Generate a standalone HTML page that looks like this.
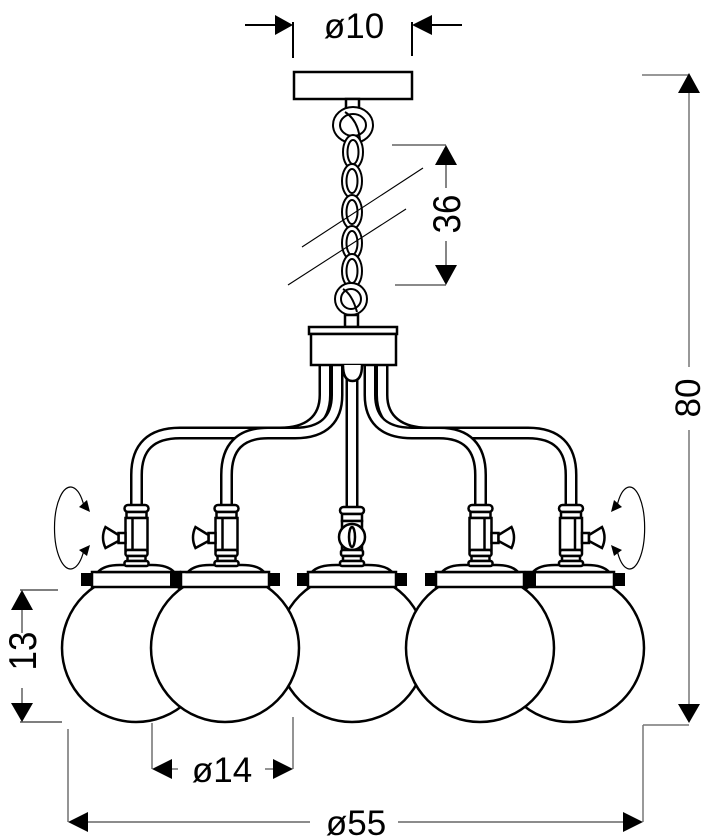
<!DOCTYPE html>
<html><head><meta charset="utf-8">
<style>
html,body{margin:0;padding:0;background:#fff;}
svg{display:block;}
text{font-family:"Liberation Sans",Arial,sans-serif;font-size:35px;fill:#000;}
</style></head><body>
<svg width="710" height="840" viewBox="0 0 710 840" xmlns="http://www.w3.org/2000/svg">
<rect width="710" height="840" fill="#fff"/>

<!-- ø10 dimension -->
<g stroke="#000" stroke-width="2" fill="none">
<line x1="245" y1="25" x2="278" y2="25"/>
<line x1="293" y1="22" x2="293" y2="58"/>
<line x1="430" y1="25" x2="462" y2="25"/>
<line x1="412" y1="22" x2="412" y2="56"/>
</g>
<polygon points="293,25 275,15 275,35" fill="#000"/>
<polygon points="412,25 432,15 432,35" fill="#000"/>
<text x="354" y="38" text-anchor="middle">ø10</text>

<!-- ceiling plate -->
<rect x="294" y="72" width="118" height="27" fill="#fff" stroke="#000" stroke-width="2.5"/>
<rect x="346" y="99" width="13" height="10" fill="#fff" stroke="#000" stroke-width="2.5"/>

<!-- chain -->
<g stroke="#000" stroke-width="2" fill="#fff">
<ellipse cx="353" cy="125" rx="20" ry="18"/>
<ellipse cx="353" cy="125" rx="13" ry="11"/>
<path d="M345,112 Q358,120 360,140" fill="none"/>
<ellipse cx="353" cy="152" rx="10" ry="17"/>
<ellipse cx="353" cy="152" rx="5.5" ry="12"/>
<ellipse cx="352" cy="181" rx="10" ry="17"/>
<ellipse cx="352" cy="181" rx="5.5" ry="12"/>
<ellipse cx="352" cy="212" rx="10" ry="17"/>
<ellipse cx="352" cy="212" rx="5.5" ry="12"/>
<ellipse cx="352" cy="243" rx="10" ry="17"/>
<ellipse cx="352" cy="243" rx="5.5" ry="12"/>
<ellipse cx="352" cy="271" rx="10" ry="17"/>
<ellipse cx="352" cy="271" rx="5.5" ry="12"/>
<ellipse cx="351" cy="299" rx="16" ry="16"/>
<ellipse cx="351" cy="299" rx="10" ry="10"/>
<path d="M343,289 Q352,294 357,312" fill="none"/>
<rect x="345" y="315" width="13" height="12" stroke-width="2.5"/>
</g>

<!-- break lines -->
<g stroke="#000" stroke-width="1.1">
<line x1="302" y1="247" x2="423" y2="168"/>
<line x1="288" y1="285" x2="406" y2="209"/>
</g>

<!-- 36 dimension -->
<g stroke="#444" stroke-width="1.3">
<line x1="392" y1="145" x2="446" y2="145"/>
<line x1="395" y1="285" x2="446" y2="285"/>
<line x1="446" y1="162" x2="446" y2="188"/>
<line x1="446" y1="241" x2="446" y2="268"/>
</g>
<polygon points="446,145 435,165 457,165" fill="#000"/>
<polygon points="446,285 435,265 457,265" fill="#000"/>
<text transform="translate(460,214) rotate(-90) scale(1,1.12)" text-anchor="middle">36</text>

<!-- arms -->
<g fill="none" stroke-linecap="butt">
<path d="M136.5,508 L136.5,475 Q136.5,433 180,433 L280,433 C308,433 325,420 325,395 L325,364" stroke="#000" stroke-width="13"/>
<path d="M136.5,510 L136.5,475 Q136.5,433 180,433 L280,433 C308,433 325,420 325,395 L325,362" stroke="#fff" stroke-width="8"/>
<path d="M226.5,508 L226.5,475 Q226.5,433 268,433 L295,433 C325,433 337,418 337,395 L337,364" stroke="#000" stroke-width="13"/>
<path d="M226.5,510 L226.5,475 Q226.5,433 268,433 L295,433 C325,433 337,418 337,395 L337,362" stroke="#fff" stroke-width="8"/>
<path d="M571,508 L571,475 Q571,433 528,433 L428,433 C400,433 382,420 382,395 L382,364" stroke="#000" stroke-width="13"/>
<path d="M571,510 L571,475 Q571,433 528,433 L428,433 C400,433 382,420 382,395 L382,362" stroke="#fff" stroke-width="8"/>
<path d="M480.5,508 L480.5,475 Q480.5,433 439,433 L412,433 C382,433 370,418 370,395 L370,364" stroke="#000" stroke-width="13"/>
<path d="M480.5,510 L480.5,475 Q480.5,433 439,433 L412,433 C382,433 370,418 370,395 L370,362" stroke="#fff" stroke-width="8"/>
<path d="M352,364 L352,510" stroke="#000" stroke-width="13"/>
<path d="M352,362 L352,512" stroke="#fff" stroke-width="8"/>
</g>

<!-- hub -->
<g stroke="#000" stroke-width="2.5" fill="#fff">
<rect x="309" y="327" width="88" height="7"/>
<rect x="311" y="334" width="85" height="31"/>
<path d="M343,365 Q343,381 352.5,381 Q362,381 362,365"/>
</g>

<!-- globes -->
<g stroke="#000" stroke-width="2.5" fill="#fff">
<circle cx="136" cy="648" r="74"/>
<circle cx="352" cy="648" r="74"/>
<circle cx="570" cy="648" r="74"/>
<circle cx="225" cy="648" r="74"/>
<circle cx="480" cy="648" r="74"/>
</g>

<!-- plates -->
<g stroke="#000" stroke-width="2.5" fill="#fff">
<rect x="92" y="572" width="88" height="15"/>
<rect x="308" y="572" width="88" height="15"/>
<rect x="526" y="572" width="88" height="15"/>
<rect x="181" y="572" width="88" height="15"/>
<rect x="436" y="572" width="88" height="15"/>
</g>
<g fill="#000">
<rect x="81" y="573" width="11" height="13"/>
<rect x="170" y="573" width="12" height="13"/>
<rect x="269" y="573" width="11" height="13"/>
<rect x="297" y="573" width="11" height="13"/>
<rect x="396" y="573" width="11" height="13"/>
<rect x="425" y="573" width="11" height="13"/>
<rect x="524" y="573" width="12" height="13"/>
<rect x="614" y="573" width="11" height="13"/>
</g>

<!-- domes -->
<g stroke="#000" stroke-width="2.5" fill="#fff">
<path d="M98,572 Q104,565 120,565 L152,565 Q168,565 174,572 Z"/>
<path d="M188,572 Q194,565 210,565 L242,565 Q258,565 264,572 Z"/>
<path d="M312,572 Q318,565 336,565 L368,565 Q386,565 392,572 Z"/>
<path d="M442,572 Q448,565 464,565 L496,565 Q512,565 518,572 Z"/>
<path d="M533,572 Q539,565 555,565 L587,565 Q603,565 609,572 Z"/>
</g>

<!-- side valves -->
<g transform="translate(136.5,0)" stroke="#000" stroke-width="2.5" fill="#fff">
 <rect x="-12" y="505" width="24" height="7" rx="3.5"/>
 <rect x="-10" y="512" width="20" height="6"/>
 <rect x="-11" y="518" width="22" height="32"/>
 <line x1="-4" y1="518" x2="-4" y2="550"/>
 <rect x="-11" y="550" width="22" height="6" rx="2"/>
 <rect x="-9" y="556" width="18" height="5"/>
 <rect x="-12" y="561" width="24" height="5" rx="2"/>
 <rect x="-18" y="533" width="7" height="10"/>
 <path d="M-18,535 L-31,527 Q-36,537.5 -31,548 L-18,541 Z"/>
</g>
<g transform="translate(226.5,0)" stroke="#000" stroke-width="2.5" fill="#fff">
 <rect x="-12" y="505" width="24" height="7" rx="3.5"/>
 <rect x="-10" y="512" width="20" height="6"/>
 <rect x="-11" y="518" width="22" height="32"/>
 <line x1="-4" y1="518" x2="-4" y2="550"/>
 <rect x="-11" y="550" width="22" height="6" rx="2"/>
 <rect x="-9" y="556" width="18" height="5"/>
 <rect x="-12" y="561" width="24" height="5" rx="2"/>
 <rect x="-18" y="533" width="7" height="10"/>
 <path d="M-18,535 L-31,527 Q-36,537.5 -31,548 L-18,541 Z"/>
</g>
<g transform="translate(480.5,0) scale(-1,1)" stroke="#000" stroke-width="2.5" fill="#fff">
 <rect x="-12" y="505" width="24" height="7" rx="3.5"/>
 <rect x="-10" y="512" width="20" height="6"/>
 <rect x="-11" y="518" width="22" height="32"/>
 <line x1="-4" y1="518" x2="-4" y2="550"/>
 <rect x="-11" y="550" width="22" height="6" rx="2"/>
 <rect x="-9" y="556" width="18" height="5"/>
 <rect x="-12" y="561" width="24" height="5" rx="2"/>
 <rect x="-18" y="533" width="7" height="10"/>
 <path d="M-18,535 L-31,527 Q-36,537.5 -31,548 L-18,541 Z"/>
</g>
<g transform="translate(571,0) scale(-1,1)" stroke="#000" stroke-width="2.5" fill="#fff">
 <rect x="-12" y="505" width="24" height="7" rx="3.5"/>
 <rect x="-10" y="512" width="20" height="6"/>
 <rect x="-11" y="518" width="22" height="32"/>
 <line x1="-4" y1="518" x2="-4" y2="550"/>
 <rect x="-11" y="550" width="22" height="6" rx="2"/>
 <rect x="-9" y="556" width="18" height="5"/>
 <rect x="-12" y="561" width="24" height="5" rx="2"/>
 <rect x="-18" y="533" width="7" height="10"/>
 <path d="M-18,535 L-31,527 Q-36,537.5 -31,548 L-18,541 Z"/>
</g>
<!-- center valve -->
<g transform="translate(352,0)" stroke="#000" stroke-width="2.5" fill="#fff">
 <rect x="-12" y="507" width="24" height="7" rx="3.5"/>
 <rect x="-10" y="514" width="20" height="7"/>
 <rect x="-10" y="521" width="20" height="29"/>
 <circle cx="0" cy="537" r="13"/>
 <ellipse cx="0" cy="537" rx="3" ry="10"/>
 <rect x="-11" y="550" width="22" height="6" rx="2"/>
 <rect x="-9" y="556" width="18" height="5"/>
 <rect x="-12" y="561" width="24" height="5" rx="2"/>
</g>

<!-- rotation arrows -->
<g stroke="#000" stroke-width="1.2" fill="none">
<path d="M84,506 A16,41 0 1 0 84,550"/>
<path d="M617,506 A15,41 0 1 1 617,550"/>
</g>
<g fill="#000">
<polygon points="90,512 79,507 87,500"/>
<polygon points="90,545 87,556 79,550"/>
<polygon points="611,512 622,507 614,500"/>
<polygon points="611,545 614,556 622,550"/>
</g>

<!-- 80 dimension -->
<g stroke="#777" stroke-width="1.5">
<line x1="642" y1="75" x2="689" y2="75"/>
<line x1="689" y1="90" x2="689" y2="367"/>
<line x1="689" y1="430" x2="689" y2="707"/>
<line x1="643" y1="725" x2="689" y2="725"/>
<line x1="643" y1="725" x2="643" y2="822"/>
</g>
<polygon points="689,73 678,93 700,93" fill="#000"/>
<polygon points="689,723 678,704 700,704" fill="#000"/>
<text transform="translate(700,398) rotate(-90)" text-anchor="middle">80</text>

<!-- 13 dimension -->
<g stroke="#555" stroke-width="1.4">
<line x1="20" y1="590" x2="58" y2="590"/>
<line x1="20" y1="722" x2="62" y2="722"/>
<line x1="22" y1="608" x2="22" y2="633"/>
<line x1="22" y1="688" x2="22" y2="705"/>
</g>
<polygon points="22,590 11,610 33,610" fill="#000"/>
<polygon points="22,722 11,703 33,703" fill="#000"/>
<text transform="translate(36,651) rotate(-90) scale(1,1.12)" text-anchor="middle">13</text>

<!-- ø14 dimension -->
<g stroke="#666" stroke-width="1.4">
<line x1="152" y1="723" x2="152" y2="769"/>
<line x1="293" y1="717" x2="293" y2="769"/>
<line x1="170" y1="769" x2="178" y2="769"/>
<line x1="265" y1="769" x2="275" y2="769"/>
</g>
<polygon points="152,769 172,759 172,779" fill="#000"/>
<polygon points="293,769 273,759 273,779" fill="#000"/>
<text x="222" y="782" text-anchor="middle">ø14</text>

<!-- ø55 dimension -->
<g stroke="#666" stroke-width="1.4">
<line x1="68" y1="729" x2="68" y2="822"/>
<line x1="86" y1="822" x2="310" y2="822"/>
<line x1="398" y1="822" x2="625" y2="822"/>
</g>
<polygon points="68,822 88,812 88,832" fill="#000"/>
<polygon points="643,822 623,812 623,832" fill="#000"/>
<text x="356" y="835" text-anchor="middle">ø55</text>
</svg>
</body></html>
